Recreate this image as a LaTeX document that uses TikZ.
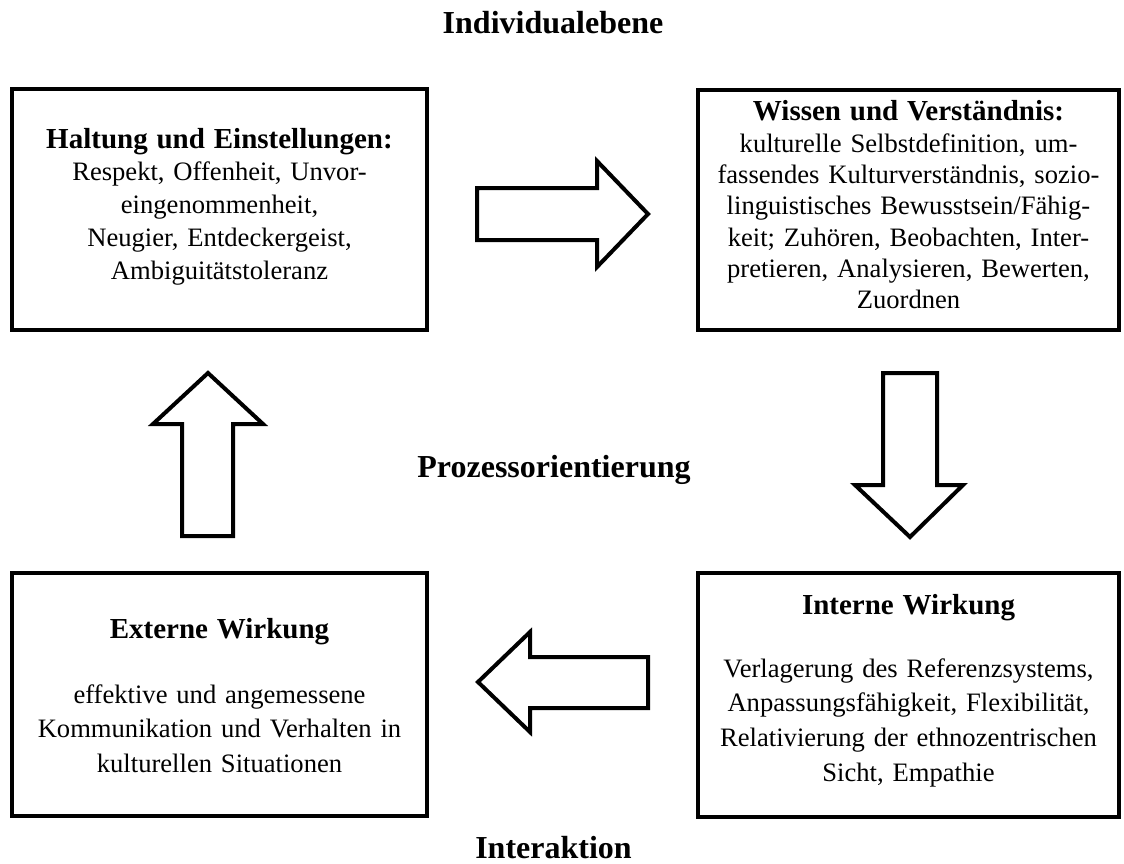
\documentclass[tikz,border=0pt]{standalone}
\usepackage{fontspec}
\setmainfont{Liberation Serif}
\newcommand{\titlefont}{\fontsize{29}{32}\selectfont\bfseries}
\newcommand{\headfont}{\fontsize{32}{36}\selectfont\bfseries}
\begin{document}
\begin{tikzpicture}[x=1pt,y=-1pt,
  box/.style={draw, line width=4pt, line join=miter, rectangle, inner sep=0pt},
  txt/.style={align=center, inner sep=0pt, anchor=base},
  heading/.style={inner sep=0pt, anchor=base, font=\headfont},
  blockarrow/.style={draw, line width=4pt, line join=miter, fill=white}]
\useasboundingbox (0,0) rectangle (1124,864);
% boxes
\node[box, minimum width=415pt, minimum height=241pt] (b1) at (219.5,209.5) {};
\node[box, minimum width=421pt, minimum height=240pt] (b2) at (908.5,210) {};
\node[box, minimum width=415pt, minimum height=243pt] (b3) at (219.5,694.5) {};
\node[box, minimum width=421pt, minimum height=244pt] (b4) at (908.5,695) {};
% box texts
\node[txt, text width=410pt, font=\fontsize{26.6}{32.8}\selectfont] (t1) at (219.5,148) {{\titlefont Haltung und Einstellungen:}\\
Respekt, Offenheit, Unvor-\\eingenommenheit,\\Neugier, Entdeckergeist,\\Ambiguitätstoleranz};
\node[txt, text width=416pt, font=\fontsize{26.6}{31.3}\selectfont] (t2) at (908.5,121) {{\titlefont Wissen und Verständnis:}\\
kulturelle Selbstdefinition, um-\\fassendes Kulturverständnis, sozio-\\linguistisches Bewusstsein/Fähig-\\keit; Zuhören, Beobachten, Inter-\\pretieren, Analysieren, Bewerten,\\Zuordnen};
\node[txt, text width=410pt, font=\fontsize{26.6}{34.5}\selectfont] (t3) at (219.5,638) {{\titlefont Externe Wirkung}\\[30.5pt]
effektive und angemessene\\Kommunikation und Verhalten in\\kulturellen Situationen};
\node[txt, text width=416pt, font=\fontsize{26.6}{34.7}\selectfont] (t4) at (908.5,614) {{\titlefont Interne Wirkung}\\[28.3pt]
Verlagerung des Referenzsystems,\\Anpassungsfähigkeit, Flexibilität,\\Relativierung der ethnozentrischen\\Sicht, Empathie};
% headings
\node[heading] (h1) at (553,34) {Individualebene};
\node[heading] (h2) at (554,477) {Prozessorientierung};
\node[heading] (h3) at (553.5,858) {Interaktion};
% block arrows
\draw[blockarrow] (477,188) -- (597,188) -- (597,161) -- (648,214) -- (597,267) -- (597,240) -- (477,240) -- cycle;
\draw[blockarrow] (883,373) -- (937,373) -- (937,485) -- (963,485) -- (910,537) -- (855,485) -- (883,485) -- cycle;
\draw[blockarrow] (182,536) -- (233,536) -- (233,424) -- (263,424) -- (208,373) -- (153,424) -- (182,424) -- cycle;
\draw[blockarrow] (648,657) -- (530,657) -- (530,632) -- (478,682) -- (530,732) -- (530,708) -- (648,708) -- cycle;
\end{tikzpicture}
\end{document}
